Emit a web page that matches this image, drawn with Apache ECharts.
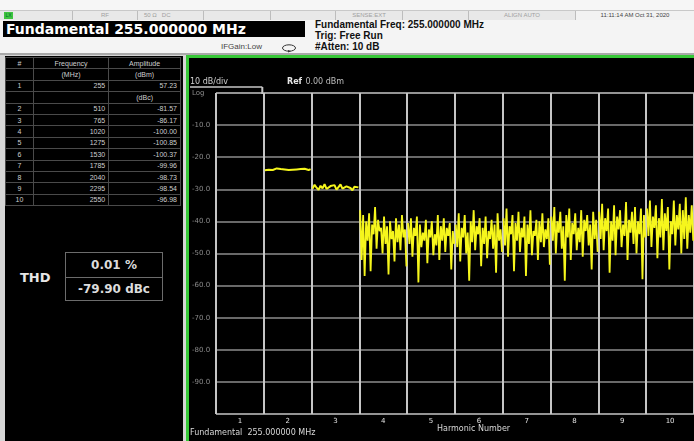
<!DOCTYPE html>
<html>
<head>
<meta charset="utf-8">
<script src="https://cdn.jsdelivr.net/npm/echarts@6/dist/echarts.min.js"></script>
<style>
body{margin:0;width:694px;height:441px;overflow:hidden;background:#d6d6d6;position:relative;font-family:"Liberation Sans",Arial,sans-serif}
.abs{position:absolute}
#top{left:0;top:0;width:694px;height:10px;background:#f6f6f6}
#strip{left:0;top:10px;width:694px;height:9px;background:#e8e8e8;border-top:1px solid #c8c8c8;border-bottom:1px solid #c8c8c8}
.cell{position:absolute;top:0;height:9px;border-left:1px solid #bdbdbd;font-size:6px;line-height:9px;color:#a0a0a0;white-space:nowrap}
#head{left:0;top:20px;width:694px;height:33px;background:#f4f4f4}
#bar{left:3px;top:21px;width:302px;height:16px;background:#000;color:#fff;font:bold 14px "DejaVu Sans",sans-serif;line-height:16px;padding-left:3px;box-sizing:border-box;white-space:nowrap}
.info{left:315px;font:bold 10px "Liberation Sans",Arial,sans-serif;color:#111;white-space:nowrap}
#ifg{left:221px;top:42px;font-size:8px;color:#444}
#rule{left:0;top:53px;width:694px;height:2px;background:#a9a9a9}
#leftp{left:5px;top:56px;width:178px;height:385px;background:#000}
#green{left:186px;top:55px;width:508px;height:386px;background:#38c838}
#chart{left:189px;top:58px;width:505px;height:383px;background:#000}
table{position:absolute;left:5px;top:57px;width:176px;border-collapse:collapse;font-size:7px;color:#cfcfcf}
td{border:1px solid #4a4a4a;height:10.4px;padding:0 3px;line-height:9px}
td.n{text-align:center}
td.r{text-align:right}
#thdl{left:20px;top:270px;color:#e6e6e6;font:bold 13px "DejaVu Sans",sans-serif}
#thdb{left:65px;top:252px;width:98px;height:49px;border:1px solid #6c6c6c;box-sizing:border-box}
.tv{position:absolute;left:0;width:96px;height:24px;text-align:center;color:#dcdcdc;font:bold 12px "DejaVu Sans",sans-serif;line-height:24px}
</style>
</head>
<body>
<div id="top" class="abs"></div>
<div id="strip" class="abs">
  <div class="cell" style="left:4px;width:9px;top:1px;height:7px;background:#3fc43f;border:none;color:#063;font-size:5px;line-height:7px;text-align:center">LX</div>
  <div class="cell" style="left:72px;width:64px;text-align:center">RF</div>
  <div class="cell" style="left:137px;width:65px;padding-left:6px">50 Ω&nbsp;&nbsp;&nbsp;DC</div>
  <div class="cell" style="left:203px;width:66px"></div>
  <div class="cell" style="left:270px;width:64px"></div>
  <div class="cell" style="left:335px;width:66px;text-align:center">SENSE:EXT</div>
  <div class="cell" style="left:402px;width:65px"></div>
  <div class="cell" style="left:468px;width:106px;text-align:center">ALIGN AUTO</div>
  <div class="cell" style="left:575px;width:118px;background:#f2f2f2;color:#444;text-align:center;border-right:1px solid #bdbdbd">11:11:14 AM Oct 31, 2020</div>
</div>
<div id="head" class="abs"></div>
<div id="bar" class="abs">Fundamental 255.000000 MHz</div>
<div class="abs info" style="top:19px">Fundamental Freq: 255.000000 MHz</div>
<div class="abs info" style="top:30px">Trig: Free Run</div>
<div class="abs info" style="top:41px">#Atten: 10 dB</div>
<div id="ifg" class="abs">IFGain:Low</div>
<svg class="abs" style="left:281px;top:43px" width="16" height="10"><ellipse cx="8" cy="5" rx="6.5" ry="3.2" fill="none" stroke="#333" stroke-width="1"/><path d="M7 7 L10 8.3 L7 9.6 Z" fill="#333"/></svg>
<div id="rule" class="abs"></div>
<div id="leftp" class="abs"></div>
<table id="tbl"></table>
<div id="thdl" class="abs">THD</div>
<div id="thdb" class="abs">
  <div class="tv" id="thdPct" style="top:0;border-bottom:1px solid #6c6c6c"></div>
  <div class="tv" id="thdDb" style="top:24px"></div>
</div>
<div id="green" class="abs"></div>
<div id="chart" class="abs"></div>
<script>
// harmonic table
var harmNum = ['1','2','3','4','5','6','7','8','9','10'];
var harmFreq = ['255','510','765','1020','1275','1530','1785','2040','2295','2550'];
var harmAmp = ['57.23','-81.57','-86.17','-100.00','-100.85','-100.37','-99.96','-98.73','-98.54','-96.98'];
var thdPercent = '0.01 %';
var thdDbc = '-79.90 dBc';

// y axis ticks, dB
var yTicks = [0,-10,-20,-30,-40,-50,-60,-70,-80,-90,-100];

// trace in each harmonic column (dBm)
var trace2 = [-24.1,-23.7,-23.9,-23.6,-24.0,-23.8,-23.5,-23.9,-23.7,-24.2,-23.8,-23.6,-24.0,-23.7,-23.9,-23.4,-23.8,-24.1,-23.7,-23.9,-23.6,-23.8,-24.0,-23.7];
var trace3 = [-29.8,-28.6,-29.5,-30.2,-28.9,-29.7,-28.4,-29.9,-30.4,-29.0,-29.6,-28.7,-30.1,-29.3,-28.5,-29.8,-30.0,-29.1,-28.8,-29.6,-30.3,-29.2,-28.6,-29.4];
var trace4 = [-36.5,-52.0,-38.0,-57.0,-40.0,-46.0,-37.5,-55.5,-41.0,-44.0,-35.5,-48.5,-39.5,-43.0,-42.0,-50.0,-38.5,-47.0,-41.5,-56.5,-40.0,-45.5,-43.0,-52.5,-39.0,-46.5,-41.0,-49.0,-38.0,-45.0,-42.5,-54.0];
var trace5 = [-40.5,-47.0,-39.0,-51.0,-42.0,-44.5,-38.5,-59.0,-41.0,-48.0,-43.5,-46.0,-39.5,-53.0,-42.5,-45.0,-40.0,-50.5,-44.0,-47.5,-38.0,-52.0,-41.5,-46.0,-39.0,-49.5,-42.0,-44.5,-40.5,-55.0,-43.0,-47.0];
var trace6 = [-41.0,-48.0,-37.5,-52.5,-42.0,-45.0,-38.0,-50.0,-43.5,-58.5,-40.0,-46.5,-36.5,-49.0,-41.5,-44.0,-39.0,-54.0,-42.0,-47.0,-38.5,-51.5,-43.0,-45.5,-39.5,-48.5,-41.0,-56.0,-37.5,-46.0,-42.5,-49.5];
var trace7 = [-39.0,-47.5,-36.0,-51.0,-41.5,-44.0,-38.0,-55.5,-40.5,-46.0,-37.0,-49.5,-42.0,-45.0,-38.5,-57.0,-41.0,-47.0,-36.5,-50.5,-43.0,-44.5,-39.5,-52.0,-40.0,-46.5,-37.5,-48.0,-42.5,-45.5,-39.0,-53.5];
var trace8 = [-38.5,-46.0,-35.5,-50.0,-40.0,-43.5,-37.0,-48.5,-41.5,-58.5,-38.0,-45.0,-36.0,-52.0,-40.5,-44.0,-37.5,-49.0,-42.0,-46.5,-36.5,-51.0,-39.5,-43.0,-38.0,-47.5,-41.0,-55.0,-37.0,-45.5,-39.5,-49.5];
var trace9 = [-37.0,-45.5,-34.5,-49.0,-39.0,-43.0,-36.0,-56.0,-40.0,-46.0,-35.0,-50.5,-38.5,-42.5,-36.5,-48.0,-41.0,-44.5,-34.0,-52.0,-39.5,-43.5,-37.0,-47.0,-35.5,-50.0,-40.0,-44.0,-36.0,-58.0,-38.0,-45.0];
var trace10 = [-36.0,-44.5,-33.5,-48.0,-38.5,-42.0,-35.0,-51.5,-39.0,-45.0,-33.0,-49.0,-37.5,-43.0,-35.5,-55.0,-40.0,-44.0,-33.5,-47.5,-38.0,-42.5,-34.5,-50.0,-36.5,-45.5,-32.5,-48.5,-38.0,-43.5,-35.0,-46.0];

var traces = [null, trace2, trace3, trace4, trace5, trace6, trace7, trace8, trace9, trace10];

// left table
var rows = '<tr><td class="n">#</td><td class="n">Frequency</td><td class="n">Amplitude</td></tr>' +
  '<tr><td></td><td class="n">(MHz)</td><td class="n">(dBm)</td></tr>';
for (var i = 0; i < harmNum.length; i++) {
  rows += '<tr><td class="n">' + harmNum[i] + '</td><td class="r">' + harmFreq[i] + '</td><td class="r">' + harmAmp[i] + '</td></tr>';
  if (i == 0) rows += '<tr><td></td><td></td><td class="n">(dBc)</td></tr>';
}
document.getElementById('tbl').innerHTML = rows;
document.getElementById('thdPct').textContent = thdPercent;
document.getElementById('thdDb').textContent = thdDbc;

// spread each column's points across its harmonic cell
function place(n, vals) {
  return vals.map(function (v, i) { return [n - 1 + (i + 0.5) / vals.length, v]; });
}

var series = [];
traces.forEach(function (t, k) {
  if (!t) return;
  series.push({
    type: 'line',
    xAxisIndex: 0,
    data: place(k + 1, t),
    showSymbol: false,
    lineStyle: { color: '#f6f61c', width: k < 3 ? 2 : 1.8 }
  });
});

var hColors = yTicks.map(function (v) { return (v == 0 || v == -100) ? '#c6c6c6' : '#8c8c8c'; });

var chart = echarts.init(document.getElementById('chart'), null, { renderer: 'canvas' });
var option = {
  backgroundColor: '#000',
  animation: false,
  grid: { left: 25, top: 35, width: 483, height: 321 },
  xAxis: [
    {
      type: 'value', min: 0, max: 10, interval: 1,
      axisLabel: { show: false }, axisTick: { show: false }, axisLine: { show: false },
      splitLine: { show: true, lineStyle: { color: '#c6c6c6', width: 2 } }
    },
    {
      type: 'category', data: harmNum, position: 'bottom',
      axisLine: { show: false }, axisTick: { show: false },
      axisLabel: { color: '#e0e0e0', fontSize: 7, margin: 4, fontFamily: 'DejaVu Sans' },
      splitLine: { show: false }
    }
  ],
  yAxis: {
    type: 'value', min: -100, max: 0, interval: 10,
    axisLine: { show: false }, axisTick: { show: false },
    axisLabel: {
      color: '#8a8a8a', fontSize: 7, align: 'left', margin: 24, fontFamily: 'DejaVu Sans',
      formatter: function (v) {
        if (v == 0) return 'Log';
        if (v == -100) return '';
        return v.toFixed(1);
      }
    },
    splitLine: { show: true, lineStyle: { color: hColors, width: 1.5 } }
  },
  series: series,
  graphic: [
    { type: 'text', left: 1, top: 20, style: { text: '10 dB/div', fill: '#cfcfcf', font: '8px "DejaVu Sans"' } },
    { type: 'line', shape: { x1: 1, y1: 29, x2: 73.3, y2: 29 }, style: { stroke: '#c6c6c6', lineWidth: 1.5 } },
    { type: 'line', shape: { x1: 73.3, y1: 29, x2: 73.3, y2: 36 }, style: { stroke: '#c6c6c6', lineWidth: 2 } },
    { type: 'text', left: 98, top: 18, style: { rich: { b: { fill: '#e8e8e8', font: 'bold 8px "DejaVu Sans"' }, n: { fill: '#bdbdbd', font: '8px "DejaVu Sans"' } }, text: '{b|Ref} {n|0.00 dBm}' } },
    { type: 'text', left: 248, top: 367, style: { text: 'Harmonic Number', fill: '#d8d8d8', font: '8px "DejaVu Sans"' } },
    { type: 'text', left: 1, top: 371, style: { text: 'Fundamental  255.000000 MHz', fill: '#d8d8d8', font: '8px "DejaVu Sans"' } }
  ]
};
chart.setOption(option);
</script>
</body>
</html>
